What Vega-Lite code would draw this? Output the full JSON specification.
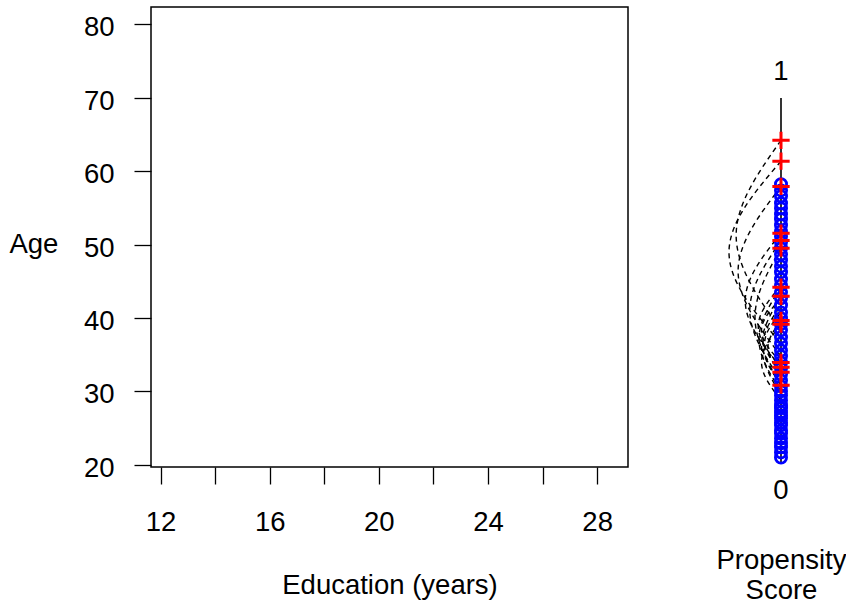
{
  "$schema": "https://vega.github.io/schema/vega-lite/v6.json",
  "padding": {"left": 8, "top": 6, "right": 0, "bottom": 0},
  "bounds": "flush",
  "spacing": 88,
  "config": {
    "font": "Liberation Sans",
    "view": {"stroke": null},
    "axis": {
      "labelFont": "Liberation Sans", "titleFont": "Liberation Sans",
      "labelFontSize": 27.5, "titleFontSize": 27.5,
      "labelColor": "black", "titleColor": "black", "titleFontWeight": "normal",
      "tickColor": "black", "tickWidth": 1.3, "grid": false, "domain": false,
      "labelOverlap": false, "labelFlush": false
    }
  },
  "datasets": {
    "blue": [
      {"p": 0.764}, {"p": 0.747}, {"p": 0.731}, {"p": 0.712}, {"p": 0.698}, {"p": 0.682},
      {"p": 0.668}, {"p": 0.652}, {"p": 0.635}, {"p": 0.621}, {"p": 0.605}, {"p": 0.589},
      {"p": 0.572}, {"p": 0.556}, {"p": 0.539}, {"p": 0.523}, {"p": 0.504}, {"p": 0.487},
      {"p": 0.468}, {"p": 0.452}, {"p": 0.433}, {"p": 0.413}, {"p": 0.397}, {"p": 0.381},
      {"p": 0.364}, {"p": 0.345}, {"p": 0.328}, {"p": 0.309}, {"p": 0.293}, {"p": 0.276},
      {"p": 0.260}, {"p": 0.244}, {"p": 0.227}, {"p": 0.211}, {"p": 0.197}, {"p": 0.186},
      {"p": 0.172}, {"p": 0.159}, {"p": 0.151}, {"p": 0.140}, {"p": 0.131}, {"p": 0.123},
      {"p": 0.112}, {"p": 0.104}, {"p": 0.090}, {"p": 0.082}, {"p": 0.068}, {"p": 0.055},
      {"p": 0.044}, {"p": 0.030}, {"p": 0.016}
    ],
    "red": [
      {"p": 0.884}, {"p": 0.827}, {"p": 0.758}, {"p": 0.630}, {"p": 0.610}, {"p": 0.589},
      {"p": 0.482}, {"p": 0.457}, {"p": 0.391}, {"p": 0.381}, {"p": 0.276}, {"p": 0.263},
      {"p": 0.249}, {"p": 0.214}
    ],
    "arcs": [
      {"pair": 1, "k": 0, "p": 0.884, "bx": 0}, {"pair": 1, "k": 1, "p": 0.624, "bx": -0.69}, {"pair": 1, "k": 2, "p": 0.364, "bx": 0},
      {"pair": 2, "k": 0, "p": 0.827, "bx": 0}, {"pair": 2, "k": 1, "p": 0.578, "bx": -0.80}, {"pair": 2, "k": 2, "p": 0.328, "bx": 0},
      {"pair": 3, "k": 0, "p": 0.758, "bx": 0}, {"pair": 3, "k": 1, "p": 0.526, "bx": -0.66}, {"pair": 3, "k": 2, "p": 0.293, "bx": 0},
      {"pair": 4, "k": 0, "p": 0.630, "bx": 0}, {"pair": 4, "k": 1, "p": 0.445, "bx": -0.55}, {"pair": 4, "k": 2, "p": 0.260, "bx": 0},
      {"pair": 5, "k": 0, "p": 0.610, "bx": 0}, {"pair": 5, "k": 1, "p": 0.419, "bx": -0.48}, {"pair": 5, "k": 2, "p": 0.227, "bx": 0},
      {"pair": 6, "k": 0, "p": 0.589, "bx": 0}, {"pair": 6, "k": 1, "p": 0.400, "bx": -0.40}, {"pair": 6, "k": 2, "p": 0.211, "bx": 0},
      {"pair": 7, "k": 0, "p": 0.482, "bx": 0}, {"pair": 7, "k": 1, "p": 0.340, "bx": -0.34}, {"pair": 7, "k": 2, "p": 0.197, "bx": 0},
      {"pair": 8, "k": 0, "p": 0.457, "bx": 0}, {"pair": 8, "k": 1, "p": 0.322, "bx": -0.30}, {"pair": 8, "k": 2, "p": 0.186, "bx": 0},
      {"pair": 9, "k": 0, "p": 0.391, "bx": 0}, {"pair": 9, "k": 1, "p": 0.318, "bx": -0.20}, {"pair": 9, "k": 2, "p": 0.244, "bx": 0},
      {"pair": 10, "k": 0, "p": 0.381, "bx": 0}, {"pair": 10, "k": 1, "p": 0.277, "bx": -0.30}, {"pair": 10, "k": 2, "p": 0.172, "bx": 0},
      {"pair": 11, "k": 0, "p": 0.276, "bx": 0}, {"pair": 11, "k": 1, "p": 0.364, "bx": -0.30}, {"pair": 11, "k": 2, "p": 0.452, "bx": 0},
      {"pair": 12, "k": 0, "p": 0.263, "bx": 0}, {"pair": 12, "k": 1, "p": 0.375, "bx": -0.35}, {"pair": 12, "k": 2, "p": 0.487, "bx": 0},
      {"pair": 13, "k": 0, "p": 0.249, "bx": 0}, {"pair": 13, "k": 1, "p": 0.331, "bx": -0.25}, {"pair": 13, "k": 2, "p": 0.413, "bx": 0},
      {"pair": 14, "k": 0, "p": 0.214, "bx": 0}, {"pair": 14, "k": 1, "p": 0.324, "bx": -0.28}, {"pair": 14, "k": 2, "p": 0.433, "bx": 0}
    ]
  },
  "hconcat": [
    {
      "width": 477,
      "height": 460,
      "view": {"stroke": "black", "strokeWidth": 1.5},
      "data": {"values": []},
      "mark": {"type": "point"},
      "encoding": {
        "x": {
          "field": "education", "type": "quantitative",
          "scale": {"domain": [11.65, 29.13], "nice": false, "zero": false},
          "axis": {
            "title": "Education (years)",
            "values": [12, 14, 16, 18, 20, 22, 24, 26, 28],
            "labelExpr": "datum.value % 4 == 0 ? datum.label : ''",
            "tickSize": 17, "labelPadding": 24, "titlePadding": 36
          }
        },
        "y": {
          "field": "age", "type": "quantitative",
          "scale": {"domain": [19.71, 82.36], "nice": false, "zero": false},
          "axis": {
            "title": "Age",
            "values": [20, 30, 40, 50, 60, 70, 80],
            "tickSize": 17, "labelPadding": 20, "labelOffset": 3.5,
            "titleAngle": 0, "titleAlign": "right", "titleBaseline": "alphabetic",
            "titleY": 245, "titlePadding": 25.5
          }
        }
      }
    },
    {
      "width": 130,
      "height": 460,
      "layer": [
        {
          "data": {"values": [{"lo": 0, "hi": 1}]},
          "mark": {"type": "rule", "color": "black", "strokeWidth": 1.6},
          "encoding": {
            "x": {
              "datum": 0, "type": "quantitative",
              "scale": {"domain": [-1, 1], "nice": false, "zero": false},
              "axis": {
                "title": ["Propensity", "Score"],
                "labels": false, "ticks": false,
                "titlePadding": 79, "titleLineHeight": 30
              }
            },
            "y": {
              "field": "lo", "type": "quantitative",
              "scale": {"domain": [-0.01, 1.249], "nice": false, "zero": false},
              "axis": null
            },
            "y2": {"field": "hi"}
          }
        },
        {
          "data": {"name": "arcs"},
          "mark": {"type": "line", "interpolate": "natural", "color": "black", "strokeWidth": 1.4, "strokeDash": [5, 4]},
          "encoding": {
            "x": {"field": "bx", "type": "quantitative", "scale": {"domain": [-1, 1], "nice": false, "zero": false}},
            "y": {"field": "p", "type": "quantitative", "scale": {"domain": [-0.01, 1.249], "nice": false, "zero": false}},
            "detail": {"field": "pair", "type": "nominal"},
            "order": {"field": "k", "type": "quantitative"}
          }
        },
        {
          "data": {"name": "blue"},
          "mark": {"type": "point", "shape": "circle", "filled": false, "color": "#0000ff", "strokeWidth": 2.8, "size": 125, "opacity": 1},
          "encoding": {
            "x": {"datum": 0, "type": "quantitative"},
            "y": {"field": "p", "type": "quantitative"}
          }
        },
        {
          "data": {"name": "red"},
          "mark": {"type": "point", "shape": "M-1,0H1M0,-1V1", "filled": false, "color": "#ff0000", "strokeWidth": 3, "size": 300, "opacity": 1},
          "encoding": {
            "x": {"datum": 0, "type": "quantitative"},
            "y": {"field": "p", "type": "quantitative"}
          }
        },
        {
          "data": {"values": [{"lab": "1", "p": 1}]},
          "mark": {"type": "text", "fontSize": 27.5, "color": "black", "dy": -25.6, "baseline": "middle"},
          "encoding": {
            "x": {"datum": 0, "type": "quantitative"},
            "y": {"field": "p", "type": "quantitative"},
            "text": {"field": "lab"}
          }
        },
        {
          "data": {"values": [{"lab": "0", "p": 0}]},
          "mark": {"type": "text", "fontSize": 27.5, "color": "black", "dy": 27.6, "baseline": "middle"},
          "encoding": {
            "x": {"datum": 0, "type": "quantitative"},
            "y": {"field": "p", "type": "quantitative"},
            "text": {"field": "lab"}
          }
        }
      ]
    }
  ]
}
